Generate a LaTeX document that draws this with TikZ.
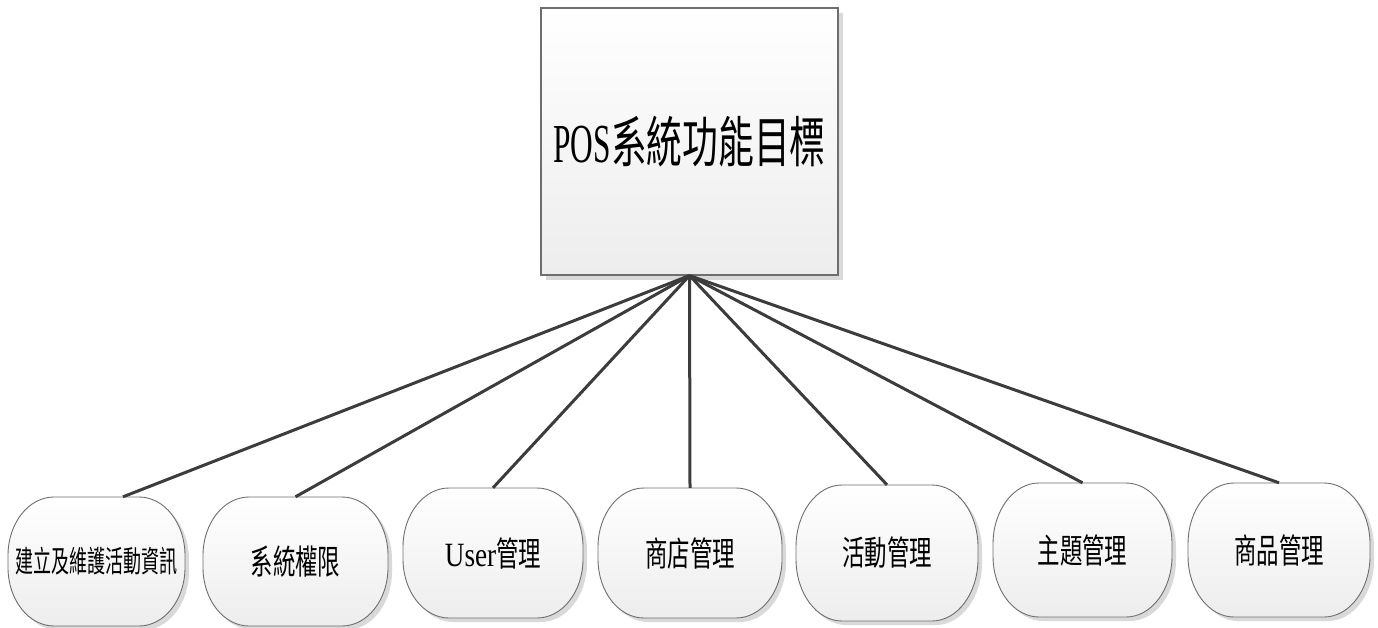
\documentclass[tikz,border=0pt]{standalone}
\usepackage{fontspec}
\setmainfont{Liberation Serif}
\newfontfamily\cjk{Noto Sans CJK TC}
\usetikzlibrary{calc,shadows}
\definecolor{linec}{HTML}{3C3C3C}
\definecolor{edgec}{HTML}{6E6E6E}
\definecolor{shadc}{HTML}{D9D9D9}
\definecolor{botc}{HTML}{EDEDED}
\tikzset{
  conn/.style={draw=linec, line width=3pt},
  capsfill/.style={top color=white, bottom color=botc, draw=edgec, line width=0.9pt},
  shadowfill/.style={fill=shadc},
}
\newcommand\cpath[1]{(\cX-\hW+\rX+#1,\cY+\hH-#1) -- (\cX+\hW-\rX+#1,\cY+\hH-#1)
   arc[start angle=90,end angle=0,x radius=\rX pt,y radius=\rY pt]
   -- (\cX+\hW+#1,\cY-\hH+\rY-#1)
   arc[start angle=0,end angle=-90,x radius=\rX pt,y radius=\rY pt]
   -- (\cX-\hW+\rX+#1,\cY-\hH-#1)
   arc[start angle=270,end angle=180,x radius=\rX pt,y radius=\rY pt]
   -- (\cX-\hW+#1,\cY+\hH-\rY-#1)
   arc[start angle=180,end angle=90,x radius=\rX pt,y radius=\rY pt]
   -- cycle}
\newcommand\capsule[6]{%
  \pgfmathsetmacro\cX{#2}%
  \pgfmathsetmacro\cY{627-#3}%
  \pgfmathsetmacro\hW{#4/2}%
  \pgfmathsetmacro\hH{#5/2}%
  \def\rX{46}\pgfmathsetmacro\rY{\hH-6}%
  \fill[shadowfill] \cpath{4};
  \path[capsfill] \cpath{0};
  \node[minimum width=#4pt,minimum height=#5pt,inner sep=0pt] (#1) at (\cX,\cY) {#6};%
}
\newcommand\lbl[1]{\scalebox{0.66}[1]{\fontsize{34}{34}\selectfont\cjk #1}}
\begin{document}
\begin{tikzpicture}[x=1pt,y=1pt]
\useasboundingbox (0,0) rectangle (1378,627);
\node[draw=edgec, line width=1.2pt, top color=white, bottom color=botc,
      minimum width=297pt, minimum height=267pt, inner sep=0pt,
      drop shadow={shadow xshift=5pt,shadow yshift=-5pt,fill=shadc,opacity=1}]
  (main) at (689.5,485.5)
  {\scalebox{0.57}[1]{\fontsize{55}{55}\selectfont POS}\scalebox{0.65}[1]{\fontsize{55}{55}\selectfont\cjk 系統功能目標}};
\capsule{s1}{96.5}{561.5}{177}{129}{\scalebox{0.6}[1]{\fontsize{30}{30}\selectfont\cjk 建立及維護活動資訊}}
\capsule{s2}{295.5}{561.5}{185}{129}{\lbl{系統權限}}
\capsule{s3}{493}{553}{180}{130}{\scalebox{0.8}[1]{\fontsize{34}{34}\selectfont User}\lbl{管理}}
\capsule{s4}{690}{553}{184}{130}{\lbl{商店管理}}
\capsule{s5}{887}{553}{182}{136}{\lbl{活動管理}}
\capsule{s6}{1082.5}{550}{179}{134}{\lbl{主題管理}}
\capsule{s7}{1279}{550}{182}{134}{\lbl{商品管理}}
\draw[conn] (main.south) -- ([xshift=26.5pt]s1.north);
\draw[conn] (main.south) -- (s2.north);
\draw[conn] (main.south) -- (s3.north);
\draw[conn] (main.south) -- (s4.north);
\draw[conn] (main.south) -- (s5.north);
\draw[conn] (main.south) -- (s6.north);
\draw[conn] (main.south) -- (s7.north);
\end{tikzpicture}
\end{document}
